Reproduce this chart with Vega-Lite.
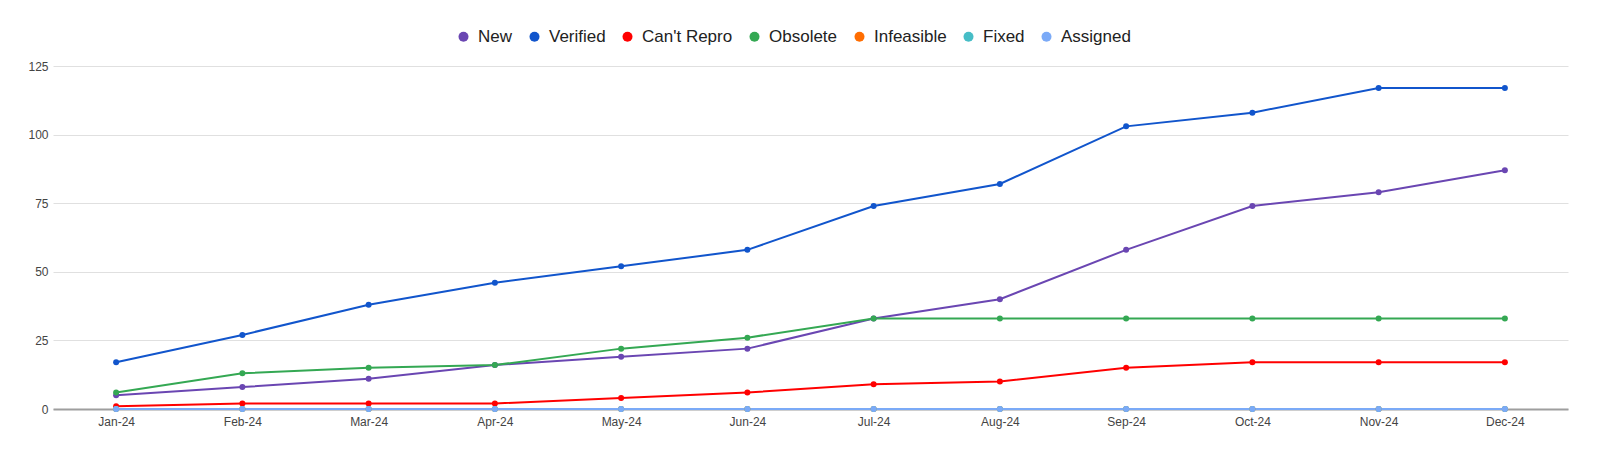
{
  "$schema": "https://vega.github.io/schema/vega-lite/v6.json",
  "width": 1515,
  "height": 343,
  "autosize": {"type": "none"},
  "padding": {"left": 53, "top": 66, "right": 32, "bottom": 46},
  "background": "white",
  "config": {
    "view": {"stroke": null},
    "font": "Liberation Sans",
    "axis": {"labelFont": "Liberation Sans", "labelFontSize": 12, "labelColor": "#444444", "ticks": false, "title": null}
  },
  "data": {
    "values": [
      {"month": "Jan-24", "status": "New", "count": 5},
      {"month": "Feb-24", "status": "New", "count": 8},
      {"month": "Mar-24", "status": "New", "count": 11},
      {"month": "Apr-24", "status": "New", "count": 16},
      {"month": "May-24", "status": "New", "count": 19},
      {"month": "Jun-24", "status": "New", "count": 22},
      {"month": "Jul-24", "status": "New", "count": 33},
      {"month": "Aug-24", "status": "New", "count": 40},
      {"month": "Sep-24", "status": "New", "count": 58},
      {"month": "Oct-24", "status": "New", "count": 74},
      {"month": "Nov-24", "status": "New", "count": 79},
      {"month": "Dec-24", "status": "New", "count": 87},
      {"month": "Jan-24", "status": "Verified", "count": 17},
      {"month": "Feb-24", "status": "Verified", "count": 27},
      {"month": "Mar-24", "status": "Verified", "count": 38},
      {"month": "Apr-24", "status": "Verified", "count": 46},
      {"month": "May-24", "status": "Verified", "count": 52},
      {"month": "Jun-24", "status": "Verified", "count": 58},
      {"month": "Jul-24", "status": "Verified", "count": 74},
      {"month": "Aug-24", "status": "Verified", "count": 82},
      {"month": "Sep-24", "status": "Verified", "count": 103},
      {"month": "Oct-24", "status": "Verified", "count": 108},
      {"month": "Nov-24", "status": "Verified", "count": 117},
      {"month": "Dec-24", "status": "Verified", "count": 117},
      {"month": "Jan-24", "status": "Can't Repro", "count": 1},
      {"month": "Feb-24", "status": "Can't Repro", "count": 2},
      {"month": "Mar-24", "status": "Can't Repro", "count": 2},
      {"month": "Apr-24", "status": "Can't Repro", "count": 2},
      {"month": "May-24", "status": "Can't Repro", "count": 4},
      {"month": "Jun-24", "status": "Can't Repro", "count": 6},
      {"month": "Jul-24", "status": "Can't Repro", "count": 9},
      {"month": "Aug-24", "status": "Can't Repro", "count": 10},
      {"month": "Sep-24", "status": "Can't Repro", "count": 15},
      {"month": "Oct-24", "status": "Can't Repro", "count": 17},
      {"month": "Nov-24", "status": "Can't Repro", "count": 17},
      {"month": "Dec-24", "status": "Can't Repro", "count": 17},
      {"month": "Jan-24", "status": "Obsolete", "count": 6},
      {"month": "Feb-24", "status": "Obsolete", "count": 13},
      {"month": "Mar-24", "status": "Obsolete", "count": 15},
      {"month": "Apr-24", "status": "Obsolete", "count": 16},
      {"month": "May-24", "status": "Obsolete", "count": 22},
      {"month": "Jun-24", "status": "Obsolete", "count": 26},
      {"month": "Jul-24", "status": "Obsolete", "count": 33},
      {"month": "Aug-24", "status": "Obsolete", "count": 33},
      {"month": "Sep-24", "status": "Obsolete", "count": 33},
      {"month": "Oct-24", "status": "Obsolete", "count": 33},
      {"month": "Nov-24", "status": "Obsolete", "count": 33},
      {"month": "Dec-24", "status": "Obsolete", "count": 33},
      {"month": "Jan-24", "status": "Infeasible", "count": 0},
      {"month": "Feb-24", "status": "Infeasible", "count": 0},
      {"month": "Mar-24", "status": "Infeasible", "count": 0},
      {"month": "Apr-24", "status": "Infeasible", "count": 0},
      {"month": "May-24", "status": "Infeasible", "count": 0},
      {"month": "Jun-24", "status": "Infeasible", "count": 0},
      {"month": "Jul-24", "status": "Infeasible", "count": 0},
      {"month": "Aug-24", "status": "Infeasible", "count": 0},
      {"month": "Sep-24", "status": "Infeasible", "count": 0},
      {"month": "Oct-24", "status": "Infeasible", "count": 0},
      {"month": "Nov-24", "status": "Infeasible", "count": 0},
      {"month": "Dec-24", "status": "Infeasible", "count": 0},
      {"month": "Jan-24", "status": "Fixed", "count": 0},
      {"month": "Feb-24", "status": "Fixed", "count": 0},
      {"month": "Mar-24", "status": "Fixed", "count": 0},
      {"month": "Apr-24", "status": "Fixed", "count": 0},
      {"month": "May-24", "status": "Fixed", "count": 0},
      {"month": "Jun-24", "status": "Fixed", "count": 0},
      {"month": "Jul-24", "status": "Fixed", "count": 0},
      {"month": "Aug-24", "status": "Fixed", "count": 0},
      {"month": "Sep-24", "status": "Fixed", "count": 0},
      {"month": "Oct-24", "status": "Fixed", "count": 0},
      {"month": "Nov-24", "status": "Fixed", "count": 0},
      {"month": "Dec-24", "status": "Fixed", "count": 0},
      {"month": "Jan-24", "status": "Assigned", "count": 0},
      {"month": "Feb-24", "status": "Assigned", "count": 0},
      {"month": "Mar-24", "status": "Assigned", "count": 0},
      {"month": "Apr-24", "status": "Assigned", "count": 0},
      {"month": "May-24", "status": "Assigned", "count": 0},
      {"month": "Jun-24", "status": "Assigned", "count": 0},
      {"month": "Jul-24", "status": "Assigned", "count": 0},
      {"month": "Aug-24", "status": "Assigned", "count": 0},
      {"month": "Sep-24", "status": "Assigned", "count": 0},
      {"month": "Oct-24", "status": "Assigned", "count": 0},
      {"month": "Nov-24", "status": "Assigned", "count": 0},
      {"month": "Dec-24", "status": "Assigned", "count": 0}
    ]
  },
  "encoding": {
    "x": {
      "field": "month",
      "type": "ordinal",
      "sort": ["Jan-24", "Feb-24", "Mar-24", "Apr-24", "May-24", "Jun-24", "Jul-24", "Aug-24", "Sep-24", "Oct-24", "Nov-24", "Dec-24"],
      "scale": {"type": "point", "padding": 0.5},
      "axis": {"labelAngle": 0, "domain": true, "domainColor": "#9e9e9e", "domainWidth": 2, "labelPadding": 7, "grid": false}
    },
    "y": {
      "field": "count",
      "type": "quantitative",
      "scale": {"domain": [0, 125], "nice": false},
      "axis": {"values": [0, 25, 50, 75, 100, 125], "domain": false, "grid": true, "gridColor": "#e0e0e0", "gridWidth": 1, "labelPadding": 5}
    },
    "color": {
      "field": "status",
      "type": "nominal",
      "scale": {
        "domain": ["New", "Verified", "Can't Repro", "Obsolete", "Infeasible", "Fixed", "Assigned"],
        "range": ["#6a46b2", "#1155cc", "#ff0000", "#34a853", "#ff6d01", "#46bdc6", "#7baaf7"]
      },
      "legend": {
        "title": null,
        "orient": "none",
        "direction": "horizontal",
        "legendX": 402,
        "legendY": -38,
        "padding": 0,
        "symbolType": "circle",
        "symbolSize": 100,
        "symbolStrokeWidth": 0,
        "labelFont": "Liberation Sans",
        "labelFontSize": 17,
        "labelColor": "#222222",
        "labelOffset": 6,
        "columnPadding": 13,
        "labelLimit": 300
      }
    }
  },
  "layer": [
    {"mark": {"type": "line", "strokeWidth": 2}},
    {"mark": {"type": "point", "filled": true, "size": 36, "opacity": 1}}
  ]
}
